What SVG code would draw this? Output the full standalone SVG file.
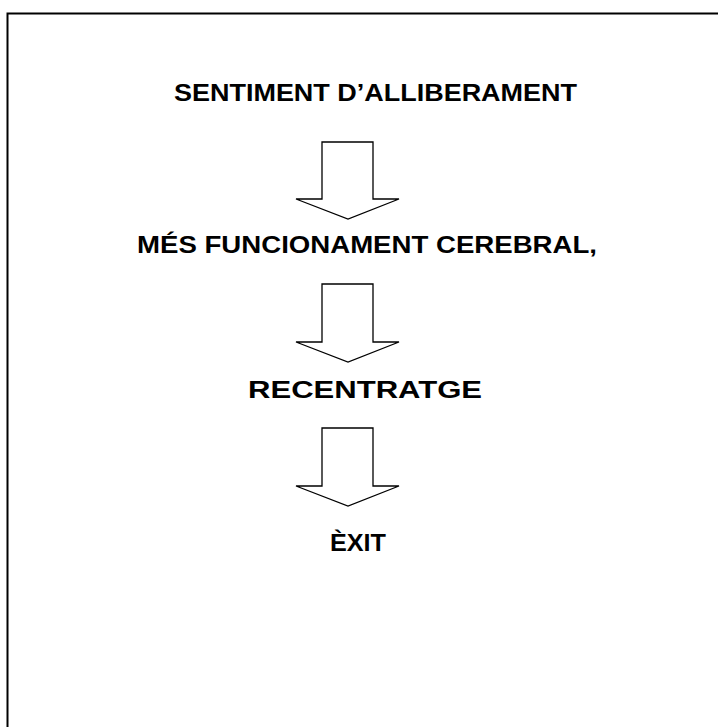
<svg xmlns="http://www.w3.org/2000/svg" width="718" height="727" viewBox="0 0 718 727">
<style>
.lbl{font-family:"Liberation Sans",Arial,sans-serif;font-weight:bold;font-size:23.5px;fill:#000}
.arr{fill:#fff;stroke:#000;stroke-width:1.3;stroke-linejoin:miter}
</style>
<rect x="0" y="0" width="718" height="727" fill="#fff"/>
<rect x="7.5" y="13.5" width="730" height="730" fill="none" stroke="#000" stroke-width="2"/>
<g id="n1"><text class="lbl" x="174" y="100.5" textLength="403" lengthAdjust="spacingAndGlyphs">SENTIMENT D’ALLIBERAMENT</text></g>
<g id="n2"><text class="lbl" x="137" y="252.5" textLength="460" lengthAdjust="spacingAndGlyphs">MÉS FUNCIONAMENT CEREBRAL,</text></g>
<g id="n3"><text class="lbl" x="248" y="397.5" textLength="234" lengthAdjust="spacingAndGlyphs">RECENTRATGE</text></g>
<g id="n4"><text class="lbl" x="330" y="550.5" textLength="56" lengthAdjust="spacingAndGlyphs">ÈXIT</text></g>
<g id="connectors">
<polygon class="arr" points="322,142 373,142 373,199 399,199 348,219 296,199 322,199"/>
<polygon class="arr" points="322,284 373,284 373,342 399,342 348,362 296,342 322,342"/>
<polygon class="arr" points="322,428 373,428 373,486 399,486 348,506 296,486 322,486"/>
</g>
</svg>
